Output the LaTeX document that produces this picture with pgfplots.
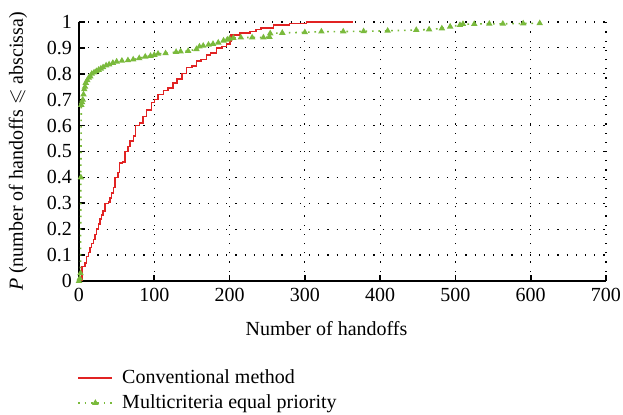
\documentclass[border=0pt]{standalone}
\usepackage{amssymb}
\usepackage{fontspec}
\setmainfont{Liberation Serif}
\usepackage{pgfplots}
\pgfplotsset{compat=1.18}
\definecolor{cred}{RGB}{225,35,35}
\definecolor{cgreen}{RGB}{122,186,60}
\begin{document}
\begin{tikzpicture}
\useasboundingbox (-39.5pt,-67pt) rectangle (272pt,140.5pt);
\begin{axis}[
  scale only axis,
  width=263.5pt, height=129.5pt,
  xmin=0, xmax=700, ymin=0, ymax=1,
  xtick={0,100,...,700},
  ytick={0,0.1,0.2,0.3,0.4,0.5,0.6,0.7,0.8,0.9,1},
  yticklabels={0,0.1,0.2,0.3,0.4,0.5,0.6,0.7,0.8,0.9,1},
  axis x line*=bottom, axis y line*=left,
  axis line style={-, line width=0.8pt},
  tick align=inside,
  major tick length=3pt,
  tick style={black, line width=0.8pt},
  grid=major,
  major grid style={black, line width=0.6pt, dash pattern=on 0.6pt off 4pt},
  /pgf/number format/assume math mode=true,
  xlabel={Number of handoffs},
  ylabel={\textit{P} (number of handoffs $\leqslant$ abscissa)},
  ylabel style={at={(axis description cs:-0.116,0.5)}, anchor=center},
  xlabel style={xshift=-8pt, yshift=-3pt},
  legend style={at={(-0.015,-0.31)}, anchor=north west, draw=none, fill=none,
    cells={anchor=west}, row sep=0pt, nodes={inner xsep=4.5pt}},
  legend cell align=left,
]
\addplot[cred, line width=0.7pt, const plot] coordinates {
(0,0)(3.5,0)(4,0.055)(8,0.07)(10,0.094)(13,0.11)(14.6,0.13)(17,0.145)(19,0.16)
(21,0.18)(23.5,0.2)(26,0.22)(28,0.24)(30,0.255)(32,0.27)(34.5,0.3)(39,0.305)
(41,0.32)(43.4,0.34)(46,0.36)(48,0.4)(52,0.42)(54,0.455)(58,0.46)(61,0.5)
(65,0.52)(68,0.54)(72,0.56)(75,0.6)(80,0.61)(85,0.635)(90,0.66)(96,0.69)
(100,0.7)(105,0.72)(112,0.735)(118,0.745)(125,0.765)(130,0.78)(137,0.8)
(143,0.825)(150,0.83)(156,0.85)(162,0.855)(169,0.873)(175,0.88)(183,0.9)
(190,0.905)(196,0.915)(200.5,0.925)(202,0.95)(214,0.958)(227,0.963)(235,0.97)
(242,0.977)(258,0.988)(280,0.995)(302,1)(364,1)
};
\addlegendentry{Conventional method}
\addplot[cgreen, line width=0.8pt, dash pattern=on 0.8pt off 2.4pt,
  mark=triangle*, mark size=1.1pt, mark options={solid, fill=cgreen, draw=cgreen}] coordinates {
(0,0)(1,0.01)(2,0.03)(2.5,0.4)(3,0.68)(4,0.69)(5,0.70)(6,0.72)(7,0.74)(8,0.75)
(9,0.765)(11,0.775)(13,0.785)(15,0.79)(17,0.80)(20,0.805)(23,0.81)(26,0.815)
(29,0.82)(32,0.825)(36,0.832)(40,0.836)(45,0.842)(50,0.847)(57,0.85)(65,0.852)
(72,0.855)(80,0.86)(88,0.866)(95,0.869)(100,0.873)(105,0.877)(115,0.879)
(129,0.884)(135,0.886)(145,0.888)(156,0.895)(160,0.905)(165,0.908)(172,0.912)
(178,0.915)(185,0.92)(192,0.928)(197,0.932)(200,0.935)(205,0.938)(215,0.94)
(230,0.94)(245,0.94)(253,0.942)(254,0.956)(270,0.958)(300,0.96)(322,0.963)
(351,0.963)(378,0.964)(410,0.966)(448,0.969)(465,0.971)(482,0.975)(493,0.982)
(506,0.988)(510,0.992)(525,0.992)(545,0.993)(563,0.993)(590,0.994)(612,0.995)
};
\addlegendentry{Multicriteria equal priority}
\end{axis}
\end{tikzpicture}
\end{document}
